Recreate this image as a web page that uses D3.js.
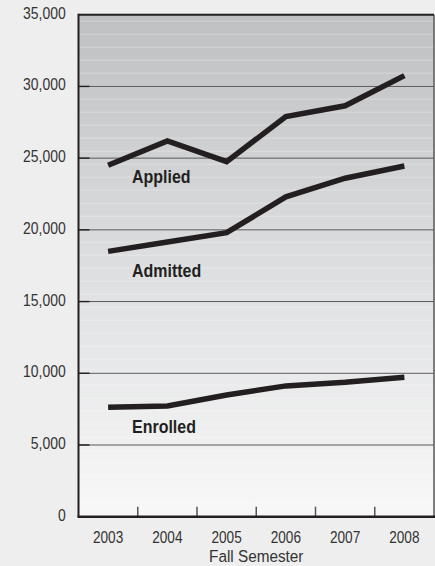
<!DOCTYPE html>
<html>
<head>
<meta charset="utf-8">
<script src="https://cdn.jsdelivr.net/npm/d3@7"></script>
<style>
  body { margin: 0; background: #eeeeee; }
  svg { display: block; }
  text { font-family: "Liberation Sans", Arial, sans-serif; fill: #231f20; }
</style>
</head>
<body>
<svg width="435" height="566"></svg>
<script>
// Data
const years = ["2003", "2004", "2005", "2006", "2007", "2008"];
const applied = [24500, 26200, 24750, 27900, 28650, 30750];
const admitted = [18500, 19150, 19800, 22300, 23600, 24450];
const enrolled = [7630, 7720, 8480, 9120, 9370, 9720];
const yTicks = [0, 5000, 10000, 15000, 20000, 25000, 30000, 35000];
const seriesNames = ["Applied", "Admitted", "Enrolled"];

const svg = d3.select("svg");

const plotL = 78.5, plotR = 434, plotT = 14.7, plotB = 516.7;

const x = d3.scaleBand()
    .domain(years)
    .range([plotL, plotR]);

const y = d3.scaleLinear()
    .domain([0, 35000])
    .range([plotB, plotT]);

// condensed look: squeeze text horizontally around its anchor
const squeeze = (px, py, sx) => `translate(${px},${py}) scale(${sx},1)`;

// Background gradient for plot area
const defs = svg.append("defs");
const grad = defs.append("linearGradient")
    .attr("id", "bg")
    .attr("x1", 0).attr("y1", 0)
    .attr("x2", 0).attr("y2", 1);
grad.append("stop").attr("offset", "0%").attr("stop-color", "#bfc0c2");
grad.append("stop").attr("offset", "55%").attr("stop-color", "#e0e1e3");
grad.append("stop").attr("offset", "100%").attr("stop-color", "#f8f8f8");

svg.append("rect")
    .attr("x", plotL)
    .attr("y", plotT)
    .attr("width", plotR - plotL)
    .attr("height", plotB - plotT)
    .attr("fill", "url(#bg)");

// faint banding lines
svg.append("g")
    .selectAll("line")
    .data(d3.range(plotT + 6.5, plotB, 13))
    .join("line")
    .attr("x1", plotL).attr("x2", plotR)
    .attr("y1", d => d).attr("y2", d => d)
    .attr("stroke", "#ffffff")
    .attr("stroke-opacity", 0.3)
    .attr("stroke-width", 1);

// gridlines
svg.append("g")
    .selectAll("line")
    .data(yTicks.filter(d => d > 0 && d < 35000))
    .join("line")
    .attr("x1", plotL).attr("x2", plotR)
    .attr("y1", d => y(d)).attr("y2", d => y(d))
    .attr("stroke", "#58585a")
    .attr("stroke-width", 1);

// short ticks on the left, inside
svg.append("g")
    .selectAll("line")
    .data(yTicks.filter(d => d > 0 && d < 35000))
    .join("line")
    .attr("x1", plotL).attr("x2", plotL + 11)
    .attr("y1", d => y(d)).attr("y2", d => y(d))
    .attr("stroke", "#231f20")
    .attr("stroke-width", 1.4);

// y tick labels
svg.append("g")
    .selectAll("text")
    .data(yTicks)
    .join("text")
    .attr("transform", d => squeeze(65.7, y(d) + 4, 0.845))
    .attr("text-anchor", "end")
    .attr("font-size", 16.5)
    .style("fill", "#333")
    .text(d => d3.format(",")(d));

// frame
svg.append("line")
    .attr("x1", plotR).attr("x2", plotR)
    .attr("y1", plotT).attr("y2", plotB)
    .attr("stroke", "#58585a").attr("stroke-width", 1.5);
svg.append("line")
    .attr("x1", plotL).attr("x2", plotR)
    .attr("y1", plotT).attr("y2", plotT)
    .attr("stroke", "#231f20").attr("stroke-width", 2);
svg.append("line")
    .attr("x1", plotL).attr("x2", plotL)
    .attr("y1", plotT - 1).attr("y2", plotB)
    .attr("stroke", "#231f20").attr("stroke-width", 2);

// x ticks between bands
svg.append("g")
    .selectAll("line")
    .data(years.slice(1))
    .join("line")
    .attr("x1", d => x(d)).attr("x2", d => x(d))
    .attr("y1", plotB - 10).attr("y2", plotB)
    .attr("stroke", "#555")
    .attr("stroke-width", 1.5);

svg.append("line")
    .attr("x1", plotL - 1).attr("x2", plotR + 1)
    .attr("y1", plotB).attr("y2", plotB)
    .attr("stroke", "#231f20").attr("stroke-width", 2.5);

// x labels
svg.append("g")
    .selectAll("text")
    .data(years)
    .join("text")
    .attr("transform", d => squeeze(x(d) + x.bandwidth() / 2, 542.5, 0.835))
    .attr("text-anchor", "middle")
    .attr("font-size", 16.3)
    .style("fill", "#333")
    .text(d => d);

svg.append("text")
    .attr("transform", squeeze((plotL + plotR) / 2, 562, 0.89))
    .attr("text-anchor", "middle")
    .attr("font-size", 17.2)
    .style("fill", "#333")
    .text("Fall Semester");

// lines
const line = d3.line()
    .x((d, i) => x(years[i]) + x.bandwidth() / 2)
    .y(d => y(d));

svg.append("g")
    .selectAll("path")
    .data([applied, admitted, enrolled])
    .join("path")
    .attr("d", line)
    .attr("fill", "none")
    .attr("stroke", "#231f20")
    .attr("stroke-width", 5.5)
    .attr("stroke-linejoin", "miter")
    .attr("stroke-linecap", "butt");

// series labels
const labelY = [183.3, 276.7, 433.3];
svg.append("g")
    .selectAll("text")
    .data(seriesNames)
    .join("text")
    .attr("transform", (d, i) => squeeze(132, labelY[i], 0.86))
    .attr("font-size", 18.6)
    .attr("font-weight", "bold")
    .text(d => d);
</script>
</body>
</html>
